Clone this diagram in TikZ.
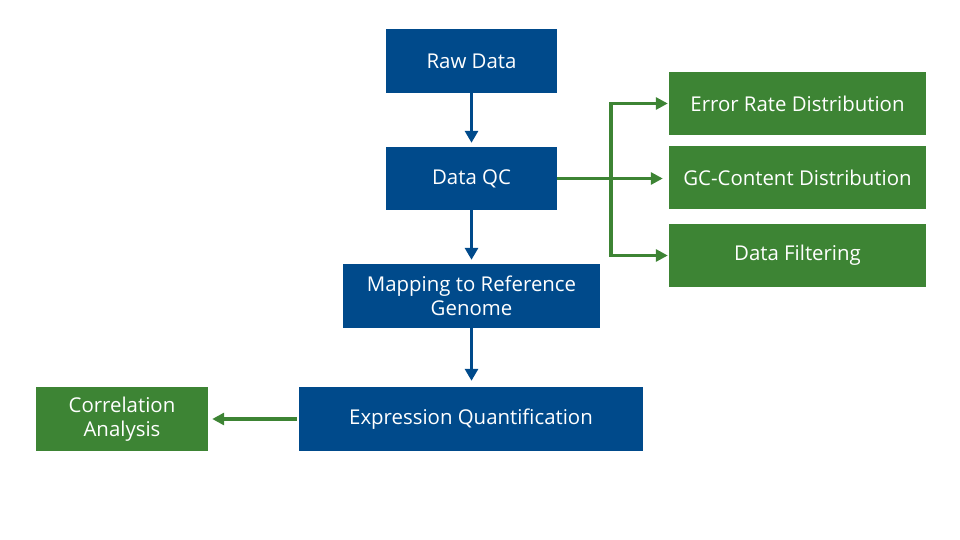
\documentclass[tikz,border=0pt]{standalone}
\usepackage{fontspec}
\setmainfont{Open Sans}
\usetikzlibrary{arrows.meta}
\definecolor{boxblue}{HTML}{004A8B}
\definecolor{boxgreen}{HTML}{3D8434}
\begin{document}
\begin{tikzpicture}[x=1pt,y=-1pt,
  bluebox/.style={fill=boxblue,draw=none,text=white,font=\fontsize{20.4}{24}\selectfont,align=center,inner sep=0pt},
  greenbox/.style={fill=boxgreen,draw=none,text=white,font=\fontsize{20.4}{24}\selectfont,align=center,inner sep=0pt},
  bluearrow/.style={draw=boxblue,line width=3.8pt,-{Triangle[length=12pt,width=13pt]}},
  greenarrow/.style={draw=boxgreen,line width=3.5pt,-{Triangle[length=12pt,width=12pt]}},
  greenline/.style={draw=boxgreen,line width=3.5pt}]
\useasboundingbox (0,0) rectangle (960,540);
\node[bluebox,minimum width=171pt,minimum height=64pt] (raw) at (471.5,61) {Raw Data};
\node[bluebox,minimum width=171pt,minimum height=63pt] (qc) at (471.5,178.5) {Data QC};
\node[bluebox,minimum width=257pt,minimum height=64pt] (map) at (471.5,296) {Mapping to Reference\\Genome};
\node[bluebox,minimum width=344pt,minimum height=64pt] (expr) at (471,419) {Expression Quantification};
\node[greenbox,minimum width=172pt,minimum height=64pt] (corr) at (122,419) {Correlation\\Analysis};
\node[greenbox,minimum width=257pt,minimum height=63pt] (err) at (797.5,103.5) {Error Rate Distribution};
\node[greenbox,minimum width=257pt,minimum height=63pt] (gc) at (797.5,177.5) {GC-Content Distribution};
\node[greenbox,minimum width=257pt,minimum height=63pt] (filt) at (797.5,255.5) {Data Filtering};
\draw[bluearrow,shorten >=4pt] (raw.south) -- (qc.north);
\draw[bluearrow,shorten >=4pt] (qc.south) -- (qc.south |- map.north);
\draw[bluearrow,shorten >=6pt] (map.south) -- (map.south |- expr.north);
\draw[greenarrow,shorten >=4pt,shorten <=2pt] (expr.west) -- (corr.east);
\coordinate (top) at (611,103.5);
\coordinate (bot) at (611,255.5);
\draw[greenarrow,shorten >=6pt] (qc.east) -- (qc.east -| gc.west);
\draw[greenline] (top) -- (bot);
\draw[greenarrow,shorten >=1pt] ([xshift=-1.75pt]top) -- (err.west);
\draw[greenarrow,shorten >=1pt] ([xshift=-1.75pt]bot) -- (filt.west);
\end{tikzpicture}
\end{document}
